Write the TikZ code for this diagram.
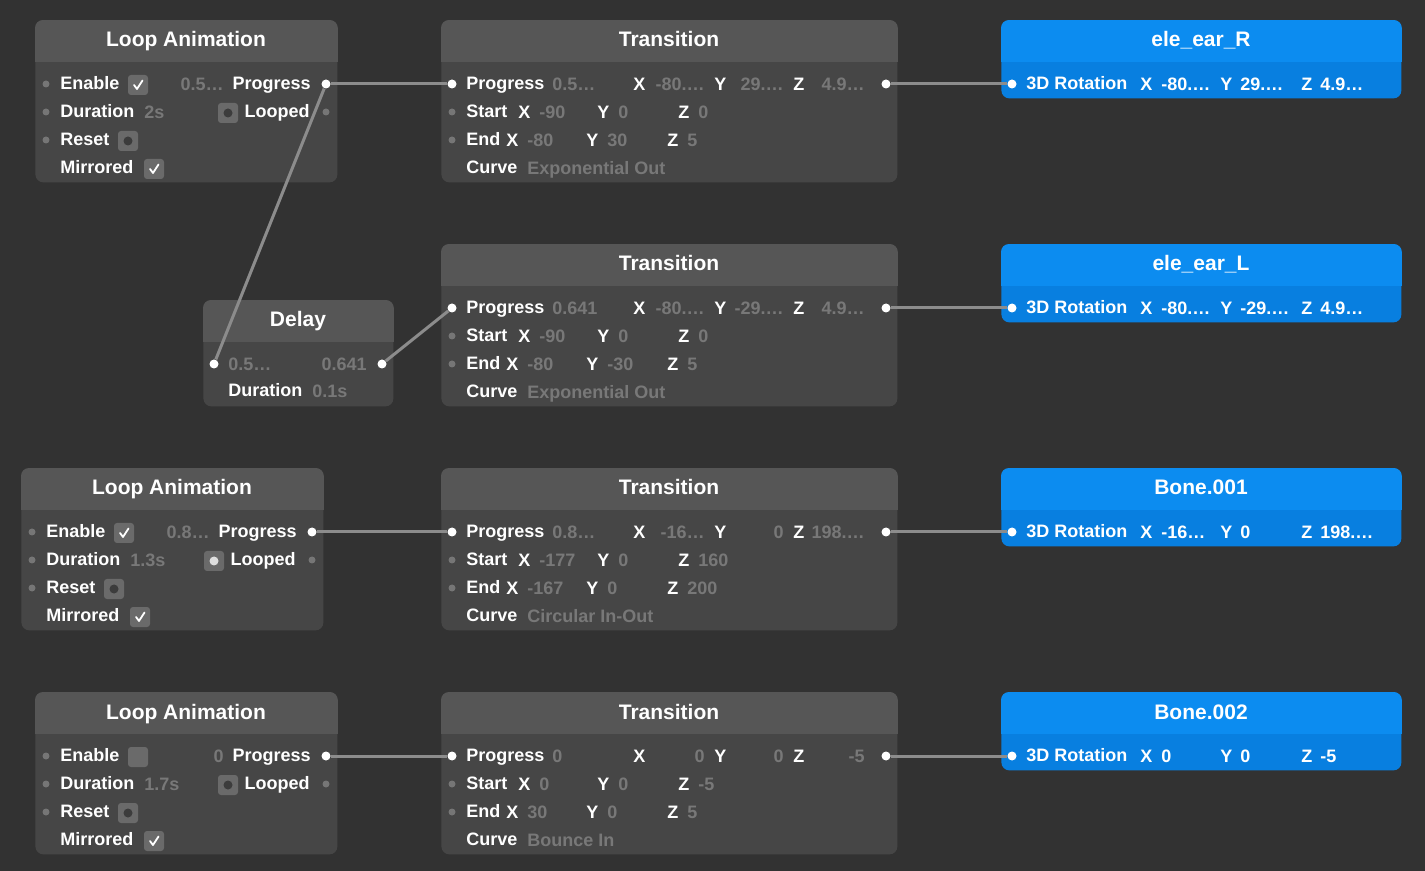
\documentclass[tikz,border=0pt]{standalone}
\usepackage{fontspec}
\setmainfont{Liberation Sans}

\definecolor{bgcol}{RGB}{50,50,50}
\definecolor{panelbody}{RGB}{70,70,70}
\definecolor{panelhead}{RGB}{86,86,86}
\definecolor{dimtext}{RGB}{120,120,120}
\definecolor{portgray}{RGB}{118,118,118}
\definecolor{wirecol}{RGB}{140,140,140}
\definecolor{boxgray}{RGB}{106,106,106}
\definecolor{radiodark}{RGB}{60,60,60}
\definecolor{radioon}{RGB}{222,222,222}
\definecolor{bluehead}{RGB}{12,140,240}
\definecolor{bluebody}{RGB}{8,127,224}

\tikzset{
  panel/.style={fill=panelbody, rounded corners=4pt, anchor=north west, inner sep=0pt},
  title/.style={anchor=base, inner sep=0pt, text=white, font=\fontsize{10.5}{12}\selectfont\bfseries},
  lbl/.style={anchor=base west, inner sep=0pt, text=white, font=\fontsize{9}{10}\selectfont\bfseries},
  val/.style={anchor=base west, inner sep=0pt, text=dimtext, font=\fontsize{9}{10}\selectfont\bfseries},
  port/.style={circle, fill=white, inner sep=0pt, minimum size=4.5pt},
  portoff/.style={circle, fill=portgray, inner sep=0pt, minimum size=3.5pt},
  cbox/.style={fill=boxgray, rounded corners=1.5pt, minimum size=10pt, inner sep=0pt},
  radio/.style={circle, inner sep=0pt, minimum size=4.5pt},
  tick/.style={white, line width=0.9pt, line cap=round, line join=round},
  wire/.style={wirecol, line width=1.5pt}
}

\begin{document}
\begin{tikzpicture}[x=0.5pt,y=-0.5pt]
\fill[bgcol] (0,0) rectangle (1425,871);
\useasboundingbox (0,0) rectangle (1425,871);

% loop animation nodes
\foreach \lx/\ly/\en/\pv/\dv/\lp [count=\i] in {35/20/1/0.5…/2s/0, 21/468/1/0.8…/1.3s/1, 35/692/0/0/1.7s/0}{
\begin{scope}[shift={(\lx,\ly)}]
\node[panel, minimum width=151pt, minimum height=81pt] (la\i) at (0,0) {};
\begin{scope}
\clip[rounded corners=4pt] (la\i.north west) rectangle (la\i.south east);
\fill[panelhead] (la\i.north west) rectangle ([yshift=-21pt]la\i.north east);
\end{scope}
\node[title] (la\i-t) at (151,27) {Loop Animation};
\foreach \ry in {64,92,120} \node[portoff] (la\i-p\ry) at (11,\ry) {};
\node[lbl] (la\i-enl) at (25,69.5) {Enable};
\node[cbox] (la\i-en) at (103,65) {};
\ifnum\en=1 \draw[tick] (la\i-en.center) ++(-4,0) -- ++(3,4) -- ++(5.5,-8.5);\fi
\node[val, anchor=base east] (la\i-pv) at (189,70.5) {\pv};
\node[lbl, anchor=base east] (la\i-prog) at (276,69.5) {Progress};
\node[port] (la\i-out) at (291,64) {};
\node[lbl] (la\i-dur) at (25,97.5) {Duration};
\node[val] (la\i-dv) at (109,98.5) {\dv};
\ifnum\lp=1 \colorlet{lpfill}{radioon}\else\colorlet{lpfill}{radiodark}\fi
\node[cbox] (la\i-lp) at (193,93) {};
\node[radio, fill=lpfill] (la\i-lpr) at (la\i-lp.center) {};
\node[lbl, anchor=base east] (la\i-lpl) at (275,97.5) {Looped};
\node[portoff] (la\i-lpo) at (291,92) {};
\node[lbl] (la\i-rs) at (25,125.5) {Reset};
\node[cbox] (la\i-rsb) at (93,121) {};
\node[radio, fill=radiodark] (la\i-rsr) at (la\i-rsb.center) {};
\node[lbl] (la\i-mi) at (25,153.5) {Mirrored};
\node[cbox] (la\i-mib) at (119,149) {};
\draw[tick] (la\i-mib.center) ++(-4,0) -- ++(3,4) -- ++(5.5,-8.5);
\end{scope}
}

% delay node
\begin{scope}[shift={(203,300)}]
\node[panel, minimum width=95pt, minimum height=53pt] (dl) at (0,0) {};
\begin{scope}
\clip[rounded corners=4pt] (dl.north west) rectangle (dl.south east);
\fill[panelhead] (dl.north west) rectangle ([yshift=-21pt]dl.north east);
\end{scope}
\node[title] (dl-t) at (95,27) {Delay};
\node[port] (dl-in) at (11,64) {};
\node[val] (dl-iv) at (25,70.5) {0.5…};
\node[val, anchor=base east] (dl-ov) at (164,70.5) {0.641};
\node[port] (dl-out) at (179,64) {};
\node[lbl] (dl-dur) at (25,96.5) {Duration};
\node[val] (dl-dv) at (109,97.5) {0.1s};
\end{scope}

% transition nodes
\foreach \ty/\pv/\xa/\ya/\za/\xs/\ys/\zs/\xe/\ye/\ze/\cv [count=\i] in {
  20/0.5…/-80.…/29.…/4.9…/-90/0/0/-80/30/5/Exponential Out,
  244/0.641/-80.…/-29.…/4.9…/-90/0/0/-80/-30/5/Exponential Out,
  468/0.8…/-16…/0/198.…/-177/0/160/-167/0/200/Circular In-Out,
  692/0/0/0/-5/0/0/-5/30/0/5/Bounce In}{
\begin{scope}[shift={(441,\ty)}]
\node[panel, minimum width=228pt, minimum height=81pt] (tr\i) at (0,0) {};
\begin{scope}
\clip[rounded corners=4pt] (tr\i.north west) rectangle (tr\i.south east);
\fill[panelhead] (tr\i.north west) rectangle ([yshift=-21pt]tr\i.north east);
\end{scope}
\node[title] (tr\i-t) at (228,27) {Transition};
\node[port] (tr\i-in) at (11,64) {};
\node[portoff] (tr\i-s) at (11,92) {};
\node[portoff] (tr\i-e) at (11,120) {};
\node[port] (tr\i-out) at (445,64) {};
% progress row
\node[lbl] (tr\i-pl) at (25,69.5) {Progress};
\node[val] (tr\i-pv) at (111,70.5) {\pv};
\node[lbl] (tr\i-xl) at (192,70.5) {X};
\node[val, anchor=base east] (tr\i-xv) at (264,70.5) {\xa};
\node[lbl] (tr\i-yl) at (273,70.5) {Y};
\node[val, anchor=base east] (tr\i-yv) at (343,70.5) {\ya};
\node[lbl] (tr\i-zl) at (352,70.5) {Z};
\node[val, anchor=base east] (tr\i-zv) at (424,70.5) {\za};
% start row
\node[lbl] (tr\i-sl) at (25,97.5) {Start};
\node[lbl] (tr\i-sxl) at (77,98.5) {X};
\node[val] (tr\i-sxv) at (98,98.5) {\xs};
\node[lbl] (tr\i-syl) at (156,98.5) {Y};
\node[val] (tr\i-syv) at (177,98.5) {\ys};
\node[lbl] (tr\i-szl) at (237,98.5) {Z};
\node[val] (tr\i-szv) at (257,98.5) {\zs};
% end row
\node[lbl] (tr\i-el) at (25,125.5) {End};
\node[lbl] (tr\i-exl) at (65,126.5) {X};
\node[val] (tr\i-exv) at (86,126.5) {\xe};
\node[lbl] (tr\i-eyl) at (145,126.5) {Y};
\node[val] (tr\i-eyv) at (166,126.5) {\ye};
\node[lbl] (tr\i-ezl) at (226,126.5) {Z};
\node[val] (tr\i-ezv) at (246,126.5) {\ze};
% curve row
\node[lbl] (tr\i-cl) at (25,153.5) {Curve};
\node[val] (tr\i-cv) at (86,154.5) {\cv};
\end{scope}
}

% bone nodes
\foreach \by/\bn/\bxv/\byv/\bzv [count=\i] in {
  20/ele\_ear\_R/-80.…/29.…/4.9…,
  244/ele\_ear\_L/-80.…/-29.…/4.9…,
  468/Bone.001/-16…/0/198.…,
  692/Bone.002/0/0/-5}{
\begin{scope}[shift={(1001,\by)}]
\node[panel, fill=bluebody, minimum width=200pt, minimum height=39pt] (bn\i) at (0,0) {};
\begin{scope}
\clip[rounded corners=4pt] (bn\i.north west) rectangle (bn\i.south east);
\fill[bluehead] (bn\i.north west) rectangle ([yshift=-21pt]bn\i.north east);
\end{scope}
\node[title] (bn\i-t) at (200,27) {\bn};
\node[port] (bn\i-in) at (11,64) {};
\node[lbl] (bn\i-rl) at (25,69.5) {3D Rotation};
\node[lbl] (bn\i-xl) at (139,70.5) {X};
\node[lbl] (bn\i-xv) at (160,70.5) {\bxv};
\node[lbl] (bn\i-yl) at (219,70.5) {Y};
\node[lbl] (bn\i-yv) at (239,70.5) {\byv};
\node[lbl] (bn\i-zl) at (300,70.5) {Z};
\node[lbl] (bn\i-zv) at (319,70.5) {\bzv};
\end{scope}
}

% connectors
\draw[wire] (la1-out) -- (tr1-in);
\draw[wire] (la1-out) -- (dl-in);
\draw[wire] (dl-out) -- (tr2-in);
\draw[wire] (la2-out) -- (tr3-in);
\draw[wire] (la3-out) -- (tr4-in);
\foreach \i in {1,...,4} \draw[wire] (tr\i-out) -- (bn\i-in);
\end{tikzpicture}
\end{document}
